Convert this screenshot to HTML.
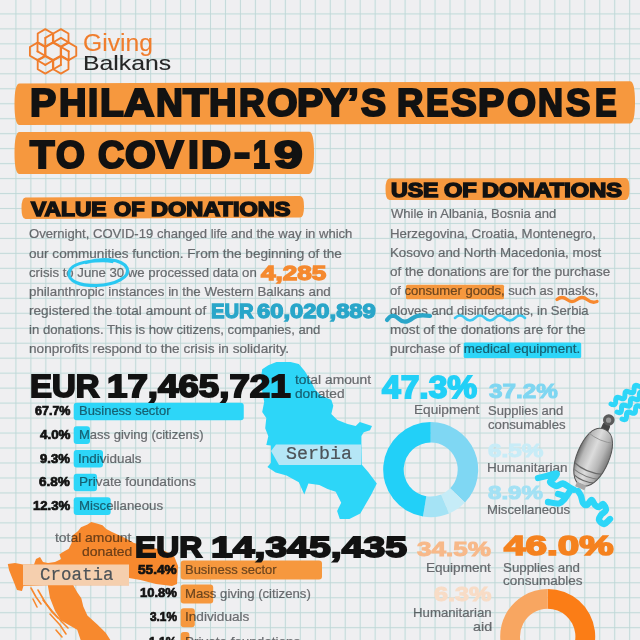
<!DOCTYPE html>
<html><head><meta charset="utf-8"><style>
html,body{margin:0;padding:0;}
body{width:640px;height:640px;overflow:hidden;position:relative;background-color:#efeff1;
}
.grid{position:absolute;left:0;top:0;width:640px;height:640px;}
.t{position:absolute;white-space:nowrap;line-height:0;transform-origin:0 0;}
.a{position:absolute;}
</style></head><body>
<svg class="a" style="left:0;top:0" width="640" height="640"><path d="M15.90,0V640M30.87,0V640M45.84,0V640M60.81,0V640M75.78,0V640M90.75,0V640M105.72,0V640M120.69,0V640M135.66,0V640M150.63,0V640M165.60,0V640M180.57,0V640M195.54,0V640M210.51,0V640M225.48,0V640M240.45,0V640M255.42,0V640M270.39,0V640M285.36,0V640M300.33,0V640M315.30,0V640M330.27,0V640M345.24,0V640M360.21,0V640M375.18,0V640M390.15,0V640M405.12,0V640M420.09,0V640M435.06,0V640M450.03,0V640M465.00,0V640M479.97,0V640M494.94,0V640M509.91,0V640M524.88,0V640M539.85,0V640M554.82,0V640M569.79,0V640M584.76,0V640M599.73,0V640M614.70,0V640M629.67,0V640M644.64,0V640M0,13.90H640M0,28.87H640M0,43.84H640M0,58.81H640M0,73.78H640M0,88.75H640M0,103.72H640M0,118.69H640M0,133.66H640M0,148.63H640M0,163.60H640M0,178.57H640M0,193.54H640M0,208.51H640M0,223.48H640M0,238.45H640M0,253.42H640M0,268.39H640M0,283.36H640M0,298.33H640M0,313.30H640M0,328.27H640M0,343.24H640M0,358.21H640M0,373.18H640M0,388.15H640M0,403.12H640M0,418.09H640M0,433.06H640M0,448.03H640M0,463.00H640M0,477.97H640M0,492.94H640M0,507.91H640M0,522.88H640M0,537.85H640M0,552.82H640M0,567.79H640M0,582.76H640M0,597.73H640M0,612.70H640M0,627.67H640M0,642.64H640" stroke="#e9f0f0" stroke-width="2.2" fill="none"/><path d="M15.90,0V640M30.87,0V640M45.84,0V640M60.81,0V640M75.78,0V640M90.75,0V640M105.72,0V640M120.69,0V640M135.66,0V640M150.63,0V640M165.60,0V640M180.57,0V640M195.54,0V640M210.51,0V640M225.48,0V640M240.45,0V640M255.42,0V640M270.39,0V640M285.36,0V640M300.33,0V640M315.30,0V640M330.27,0V640M345.24,0V640M360.21,0V640M375.18,0V640M390.15,0V640M405.12,0V640M420.09,0V640M435.06,0V640M450.03,0V640M465.00,0V640M479.97,0V640M494.94,0V640M509.91,0V640M524.88,0V640M539.85,0V640M554.82,0V640M569.79,0V640M584.76,0V640M599.73,0V640M614.70,0V640M629.67,0V640M644.64,0V640M0,13.90H640M0,28.87H640M0,43.84H640M0,58.81H640M0,73.78H640M0,88.75H640M0,103.72H640M0,118.69H640M0,133.66H640M0,148.63H640M0,163.60H640M0,178.57H640M0,193.54H640M0,208.51H640M0,223.48H640M0,238.45H640M0,253.42H640M0,268.39H640M0,283.36H640M0,298.33H640M0,313.30H640M0,328.27H640M0,343.24H640M0,358.21H640M0,373.18H640M0,388.15H640M0,403.12H640M0,418.09H640M0,433.06H640M0,448.03H640M0,463.00H640M0,477.97H640M0,492.94H640M0,507.91H640M0,522.88H640M0,537.85H640M0,552.82H640M0,567.79H640M0,582.76H640M0,597.73H640M0,612.70H640M0,627.67H640M0,642.64H640" stroke="#bed6d6" stroke-width="0.85" fill="none"/></svg>
<svg class="a" style="left:0;top:0" width="640" height="640"><path d="M19.5,83.5 L630,81.2 Q635,81.2 635,102.30000000000001 Q635,123.4 630,123.4 L19.5,125 Q14.5,125 14.5,104.25 Q14.5,83.5 19.5,83.5 Z" fill="#f6983e"/><path d="M19.5,132 L309,131.7 Q314,131.7 314,152.85 Q314,174 309,174 L19.5,174 Q14.5,174 14.5,153.0 Q14.5,132 19.5,132 Z" fill="#f6983e"/><path d="M25.5,197.5 L300,196 Q304,196 304,206.75 Q304,217.5 300,217.5 L25.5,219 Q21.5,219 21.5,208.25 Q21.5,197.5 25.5,197.5 Z" fill="#f6983e"/><path d="M389.5,178.4 L625.5,178 Q629.5,178 629.5,189.0 Q629.5,200 625.5,200 L389.5,200 Q385.5,200 385.5,189.2 Q385.5,178.4 389.5,178.4 Z" fill="#f6983e"/><rect x="406" y="284.7" width="98" height="14.5" rx="1.5" fill="#f6983e"/><rect x="463.7" y="342.5" width="117.5" height="15.5" rx="1.5" fill="#2dd6f8"/><rect x="73.7" y="402.70" width="170.05" height="17.6" rx="3" fill="#2dd6f8"/><rect x="73.7" y="426.35" width="16.30" height="17.6" rx="3" fill="#2dd6f8"/><rect x="73.7" y="450.00" width="29.30" height="17.6" rx="3" fill="#2dd6f8"/><rect x="73.7" y="473.65" width="23.30" height="17.6" rx="3" fill="#2dd6f8"/><rect x="73.7" y="497.30" width="37.00" height="17.6" rx="3" fill="#2dd6f8"/><rect x="180.7" y="560.60" width="141.30" height="19" rx="3" fill="#f6983e"/><rect x="180.7" y="584.40" width="32.50" height="19" rx="3" fill="#f6983e"/><rect x="180.7" y="608.20" width="14.10" height="19" rx="3" fill="#f6983e"/><rect x="180.7" y="632.00" width="8.70" height="19" rx="3" fill="#f6983e"/><path d="M262.2,369.2 L268.3,365.2 L276.4,362.1 L290.6,362.1 L298.8,364.1 L304.9,371.3 L311,381.4 L315,389.6 L321.1,395.7 L331.3,399.7 L333.3,405.8 L331.3,414 L337.4,420 L347.6,424.1 L355.7,426.1 L359.8,422.1 L365.9,424.1 L372,426.1 L370,430.2 L363.8,432.2 L361.4,436 L361.4,445.4 L361.7,464.4 L368.6,472.6 L376.8,483.6 L371.3,494.5 L365.8,504 L360.3,513.6 L349.4,519.1 L339.8,519.1 L337.1,510.9 L341.2,502.7 L335.7,491.8 L327.5,489 L319.3,485 L308.4,483.6 L304.3,494.5 L298.8,482.2 L286.5,475.4 L275.6,472.6 L267.4,467 L271,462.7 L271,445.4 L266.3,445 L268.3,436.3 L265.2,428.2 L266.3,418 L262.2,412 L264.2,401.7 L262,390 L261,378 Z" fill="#2dd6f8"/><path d="M271,451 L276,444.5 L361,444.5 L361,465 L279,465 Z" fill="#b5e6f6"/><path d="M91.2,522 L96.9,523.4 L102.5,525.3 L106.25,529 L112,532 L125,538 L134,543 L150,547 L165,551 L174,556 L178,566 L177,584 L172,586 L156,584 L140.6,580 L129,578 L129,585.3 L73.2,585.3 L77.2,592.2 L81.3,598.3 L83.3,606.4 L87.4,615.6 L97.6,624.7 L105.7,632.8 L111,641 L81,641 L77.2,629.8 L61,620.6 L54.9,610.5 L50,598 L47.8,585.3 L23.4,586 L22,591 L17,590 L13,580 L9,570 L7.8,564 L15,563 L23,564.5 L34,564.5 L36,559 L40,557 L43,562 L48,563 L55,562 L61.2,559 L59.4,554.4 L62.2,552.5 L68.75,548.75 L71.6,543.1 L72.5,535.6 L78.1,531 L81,527.2 L87.5,524.4 Z" fill="#f7892e"/><g fill="none" stroke="#f7892e" stroke-width="1.6" stroke-linecap="round" stroke-linejoin="round"><path d="M31,588 L36,597 L41,604"/><path d="M38,590 L45,602 L52,612 L58,618"/><path d="M43,600 L52,611 L62,622 L68,628"/><path d="M50,614 L60,625 L66,634"/><path d="M33,599 L37,607"/><path d="M56,630 L62,637"/></g><path d="M23,564.5 L129,564.5 L129,585.3 L23,585.3 Z" fill="#f5cfae"/><path d="M430.70,422.10 A47.5,47.5 0 0 1 464.91,502.55 L450.15,488.33 A27,27 0 0 0 430.70,442.60 Z" fill="#7fd7f3"/><path d="M464.91,502.55 A47.5,47.5 0 0 1 449.02,513.43 L441.11,494.51 A27,27 0 0 0 450.15,488.33 Z" fill="#c6ecf7"/><path d="M449.02,513.43 A47.5,47.5 0 0 1 422.97,516.47 L426.31,496.24 A27,27 0 0 0 441.11,494.51 Z" fill="#a5e3f5"/><path d="M422.97,516.47 A47.5,47.5 0 0 1 430.70,422.10 L430.70,442.60 A27,27 0 0 0 426.31,496.24 Z" fill="#22d0f8"/><path d="M547.70,589.00 A47.5,47.5 0 0 1 559.51,682.51 L554.59,663.33 A27.7,27.7 0 0 0 547.70,608.80 Z" fill="#fb7d16"/><path d="M559.51,682.51 A47.5,47.5 0 0 1 522.25,676.61 L532.86,659.89 A27.7,27.7 0 0 0 554.59,663.33 Z" fill="#f9b27a"/><path d="M522.25,676.61 A47.5,47.5 0 0 1 508.75,663.69 L524.99,652.36 A27.7,27.7 0 0 0 532.86,659.89 Z" fill="#f9dcc6"/><path d="M508.75,663.69 A47.5,47.5 0 0 1 547.70,589.00 L547.70,608.80 A27.7,27.7 0 0 0 524.99,652.36 Z" fill="#f8a661"/></svg>
<div class="t" style="left:82.62px;top:42.53px;font:normal 23.91px 'Liberation Sans', sans-serif;line-height:0;color:#f07d2c;-webkit-text-stroke:0.1px #f07d2c;transform:scaleX(1.0315)">Giving</div><div class="t" style="left:82.58px;top:62.93px;font:normal 21.01px 'Liberation Sans', sans-serif;line-height:0;color:#262626;-webkit-text-stroke:0.1px #262626;transform:scaleX(1.1785)">Balkans</div><div class="t" style="left:30.00px;top:103.01px;font:bold 39.00px 'Liberation Sans', sans-serif;line-height:0;color:#121212;-webkit-text-stroke:2.2px #121212;transform:scaleX(1.0073)">P</div><div class="t" style="left:58.99px;top:103.01px;font:bold 39.00px 'Liberation Sans', sans-serif;line-height:0;color:#121212;-webkit-text-stroke:2.2px #121212;transform:scaleX(0.9766)">H</div><div class="t" style="left:87.84px;top:103.01px;font:bold 39.00px 'Liberation Sans', sans-serif;line-height:0;color:#121212;-webkit-text-stroke:2.2px #121212;transform:scaleX(0.9360)">I</div><div class="t" style="left:100.36px;top:103.01px;font:bold 39.00px 'Liberation Sans', sans-serif;line-height:0;color:#121212;-webkit-text-stroke:2.2px #121212;transform:scaleX(0.9969)">L</div><div class="t" style="left:123.84px;top:103.01px;font:bold 39.00px 'Liberation Sans', sans-serif;line-height:0;color:#121212;-webkit-text-stroke:2.2px #121212;transform:scaleX(1.0759)">A</div><div class="t" style="left:156.02px;top:103.01px;font:bold 39.00px 'Liberation Sans', sans-serif;line-height:0;color:#121212;-webkit-text-stroke:2.2px #121212;transform:scaleX(0.9531)">N</div><div class="t" style="left:183.36px;top:103.01px;font:bold 39.00px 'Liberation Sans', sans-serif;line-height:0;color:#121212;-webkit-text-stroke:2.2px #121212;transform:scaleX(1.0703)">T</div><div class="t" style="left:209.29px;top:103.01px;font:bold 39.00px 'Liberation Sans', sans-serif;line-height:0;color:#121212;-webkit-text-stroke:2.2px #121212;transform:scaleX(0.9766)">H</div><div class="t" style="left:239.07px;top:103.01px;font:bold 39.00px 'Liberation Sans', sans-serif;line-height:0;color:#121212;-webkit-text-stroke:2.2px #121212;transform:scaleX(0.9074)">R</div><div class="t" style="left:267.04px;top:103.01px;font:bold 39.00px 'Liberation Sans', sans-serif;line-height:0;color:#121212;-webkit-text-stroke:2.2px #121212;transform:scaleX(1.0068)">O</div><div class="t" style="left:296.85px;top:103.01px;font:bold 39.00px 'Liberation Sans', sans-serif;line-height:0;color:#121212;-webkit-text-stroke:2.2px #121212;transform:scaleX(1.0073)">P</div><div class="t" style="left:321.52px;top:103.01px;font:bold 39.00px 'Liberation Sans', sans-serif;line-height:0;color:#121212;-webkit-text-stroke:2.2px #121212;transform:scaleX(1.0200)">Y</div><div class="t" style="left:348.27px;top:103.01px;font:bold 39.00px 'Liberation Sans', sans-serif;line-height:0;color:#121212;-webkit-text-stroke:2.2px #121212;transform:scaleX(0.9938)">’</div><div class="t" style="left:360.91px;top:103.01px;font:bold 39.00px 'Liberation Sans', sans-serif;line-height:0;color:#121212;-webkit-text-stroke:2.2px #121212;transform:scaleX(0.9619)">S</div><div class="t" style="left:396.64px;top:103.01px;font:bold 39.00px 'Liberation Sans', sans-serif;line-height:0;color:#121212;-webkit-text-stroke:2.2px #121212;transform:scaleX(0.9365)">R</div><div class="t" style="left:425.63px;top:103.01px;font:bold 39.00px 'Liberation Sans', sans-serif;line-height:0;color:#121212;-webkit-text-stroke:2.2px #121212;transform:scaleX(0.8637)">E</div><div class="t" style="left:450.52px;top:103.01px;font:bold 39.00px 'Liberation Sans', sans-serif;line-height:0;color:#121212;-webkit-text-stroke:2.2px #121212;transform:scaleX(0.9888)">S</div><div class="t" style="left:478.45px;top:103.01px;font:bold 39.00px 'Liberation Sans', sans-serif;line-height:0;color:#121212;-webkit-text-stroke:2.2px #121212;transform:scaleX(1.0073)">P</div><div class="t" style="left:506.56px;top:103.01px;font:bold 39.00px 'Liberation Sans', sans-serif;line-height:0;color:#121212;-webkit-text-stroke:2.2px #121212;transform:scaleX(0.9559)">O</div><div class="t" style="left:537.90px;top:103.01px;font:bold 39.00px 'Liberation Sans', sans-serif;line-height:0;color:#121212;-webkit-text-stroke:2.2px #121212;transform:scaleX(0.8867)">N</div><div class="t" style="left:565.90px;top:103.01px;font:bold 39.00px 'Liberation Sans', sans-serif;line-height:0;color:#121212;-webkit-text-stroke:2.2px #121212;transform:scaleX(0.9388)">S</div><div class="t" style="left:594.67px;top:103.01px;font:bold 39.00px 'Liberation Sans', sans-serif;line-height:0;color:#121212;-webkit-text-stroke:2.2px #121212;transform:scaleX(0.8309)">E</div><div class="t" style="left:30.44px;top:154.85px;font:bold 38.57px 'Liberation Sans', sans-serif;line-height:0;color:#121212;-webkit-text-stroke:2.2px #121212;transform:scaleX(1.0378)">T</div><div class="t" style="left:56.47px;top:154.85px;font:bold 38.57px 'Liberation Sans', sans-serif;line-height:0;color:#121212;-webkit-text-stroke:2.2px #121212;transform:scaleX(0.9623)">O</div><div class="t" style="left:97.78px;top:154.85px;font:bold 38.57px 'Liberation Sans', sans-serif;line-height:0;color:#121212;-webkit-text-stroke:2.2px #121212;transform:scaleX(0.9473)">C</div><div class="t" style="left:125.15px;top:154.85px;font:bold 38.57px 'Liberation Sans', sans-serif;line-height:0;color:#121212;-webkit-text-stroke:2.2px #121212;transform:scaleX(1.0274)">O</div><div class="t" style="left:155.88px;top:154.85px;font:bold 38.57px 'Liberation Sans', sans-serif;line-height:0;color:#121212;-webkit-text-stroke:2.2px #121212;transform:scaleX(1.0698)">V</div><div class="t" style="left:188.17px;top:154.85px;font:bold 38.57px 'Liberation Sans', sans-serif;line-height:0;color:#121212;-webkit-text-stroke:2.2px #121212;transform:scaleX(1.0154)">I</div><div class="t" style="left:200.59px;top:154.85px;font:bold 38.57px 'Liberation Sans', sans-serif;line-height:0;color:#121212;-webkit-text-stroke:2.2px #121212;transform:scaleX(1.0792)">D</div><div class="t" style="left:233.73px;top:152.65px;font:bold 38.57px 'Liberation Sans', sans-serif;line-height:0;color:#121212;-webkit-text-stroke:2.2px #121212;transform:scaleX(1.2605)">-</div><div class="t" style="left:253.44px;top:154.85px;font:bold 38.57px 'Liberation Sans', sans-serif;line-height:0;color:#121212;-webkit-text-stroke:2.2px #121212;transform:scaleX(0.7871)">1</div><div class="t" style="left:274.02px;top:154.85px;font:bold 38.57px 'Liberation Sans', sans-serif;line-height:0;color:#121212;-webkit-text-stroke:2.2px #121212;transform:scaleX(1.3365)">9</div><div class="t" style="left:31.35px;top:208.73px;font:bold 20.14px 'Liberation Sans', sans-serif;line-height:0;color:#121212;-webkit-text-stroke:1.5px #121212;transform:scaleX(1.1329)">VALUE</div><div class="t" style="left:113.54px;top:208.73px;font:bold 20.14px 'Liberation Sans', sans-serif;line-height:0;color:#121212;-webkit-text-stroke:1.5px #121212;transform:scaleX(1.0947)">OF</div><div class="t" style="left:151.36px;top:208.73px;font:bold 20.14px 'Liberation Sans', sans-serif;line-height:0;color:#121212;-webkit-text-stroke:1.5px #121212;transform:scaleX(1.1698)">DONATIONS</div><div class="t" style="left:391.07px;top:189.73px;font:bold 20.14px 'Liberation Sans', sans-serif;line-height:0;color:#121212;-webkit-text-stroke:1.5px #121212;transform:scaleX(1.1474)">USE</div><div class="t" style="left:443.93px;top:189.73px;font:bold 20.14px 'Liberation Sans', sans-serif;line-height:0;color:#121212;-webkit-text-stroke:1.5px #121212;transform:scaleX(1.1731)">OF</div><div class="t" style="left:481.86px;top:189.73px;font:bold 20.14px 'Liberation Sans', sans-serif;line-height:0;color:#121212;-webkit-text-stroke:1.5px #121212;transform:scaleX(1.1740)">DONATIONS</div><div class="t" style="left:29.09px;top:234.35px;font:normal 12.72px 'Liberation Sans', sans-serif;line-height:0;color:#717376;-webkit-text-stroke:0.22px #717376;mix-blend-mode:multiply;transform:scaleX(1.0279)">Overnight, COVID-19 changed life and the way in which</div><div class="t" style="left:29.07px;top:253.60px;font:normal 12.72px 'Liberation Sans', sans-serif;line-height:0;color:#717376;-webkit-text-stroke:0.22px #717376;mix-blend-mode:multiply;transform:scaleX(1.0665)">our communities function. From the beginning of the</div><div class="t" style="left:29.09px;top:272.60px;font:normal 12.72px 'Liberation Sans', sans-serif;line-height:0;color:#717376;-webkit-text-stroke:0.22px #717376;mix-blend-mode:multiply;transform:scaleX(1.0357)">crisis to June 30 we processed data on</div><div class="t" style="left:28.82px;top:291.60px;font:normal 12.72px 'Liberation Sans', sans-serif;line-height:0;color:#717376;-webkit-text-stroke:0.22px #717376;mix-blend-mode:multiply;transform:scaleX(1.0467)">philanthropic instances in the Western Balkans and</div><div class="t" style="left:28.80px;top:311.10px;font:normal 12.72px 'Liberation Sans', sans-serif;line-height:0;color:#717376;-webkit-text-stroke:0.22px #717376;mix-blend-mode:multiply;transform:scaleX(1.0712)">registered the total amount of</div><div class="t" style="left:28.82px;top:330.10px;font:normal 12.72px 'Liberation Sans', sans-serif;line-height:0;color:#717376;-webkit-text-stroke:0.22px #717376;mix-blend-mode:multiply;transform:scaleX(1.0340)">in donations. This is how citizens, companies, and</div><div class="t" style="left:28.80px;top:349.35px;font:normal 12.72px 'Liberation Sans', sans-serif;line-height:0;color:#717376;-webkit-text-stroke:0.22px #717376;mix-blend-mode:multiply;transform:scaleX(1.0708)">nonprofits respond to the crisis in solidarity.</div><div class="t" style="left:260.59px;top:273.38px;font:bold 20.00px 'Liberation Sans', sans-serif;line-height:0;color:#f5892f;-webkit-text-stroke:1.3px #f5892f;transform:scaleX(1.3037)">4,285</div><div class="t" style="left:210.69px;top:310.58px;font:bold 20.00px 'Liberation Sans', sans-serif;line-height:0;color:#2aa6c9;-webkit-text-stroke:1.3px #2aa6c9;transform:scaleX(1.0123)">EUR</div><div class="t" style="left:257.36px;top:310.58px;font:bold 20.00px 'Liberation Sans', sans-serif;line-height:0;color:#2aa6c9;-webkit-text-stroke:1.3px #2aa6c9;transform:scaleX(1.1861)">60,020,889</div><div class="t" style="left:390.61px;top:214.35px;font:normal 12.72px 'Liberation Sans', sans-serif;line-height:0;color:#717376;-webkit-text-stroke:0.22px #717376;mix-blend-mode:multiply;transform:scaleX(1.0248)">While in Albania, Bosnia and</div><div class="t" style="left:389.56px;top:233.85px;font:normal 12.72px 'Liberation Sans', sans-serif;line-height:0;color:#717376;-webkit-text-stroke:0.22px #717376;mix-blend-mode:multiply;transform:scaleX(1.0401)">Herzegovina, Croatia, Montenegro,</div><div class="t" style="left:389.55px;top:253.10px;font:normal 12.72px 'Liberation Sans', sans-serif;line-height:0;color:#717376;-webkit-text-stroke:0.22px #717376;mix-blend-mode:multiply;transform:scaleX(1.0446)">Kosovo and North Macedonia, most</div><div class="t" style="left:390.08px;top:272.35px;font:normal 12.72px 'Liberation Sans', sans-serif;line-height:0;color:#717376;-webkit-text-stroke:0.22px #717376;mix-blend-mode:multiply;transform:scaleX(1.0592)">of the donations are for the purchase</div><div class="t" style="left:390.09px;top:291.35px;font:normal 12.72px 'Liberation Sans', sans-serif;line-height:0;color:#717376;-webkit-text-stroke:0.22px #717376;mix-blend-mode:multiply;transform:scaleX(1.0269)">of consumer goods, such as masks,</div><div class="t" style="left:390.09px;top:310.60px;font:normal 12.72px 'Liberation Sans', sans-serif;line-height:0;color:#717376;-webkit-text-stroke:0.22px #717376;mix-blend-mode:multiply;transform:scaleX(1.0292)">gloves and disinfectants, in Serbia</div><div class="t" style="left:389.80px;top:329.85px;font:normal 12.72px 'Liberation Sans', sans-serif;line-height:0;color:#717376;-webkit-text-stroke:0.22px #717376;mix-blend-mode:multiply;transform:scaleX(1.0675)">most of the donations are for the</div><div class="t" style="left:389.81px;top:348.60px;font:normal 12.72px 'Liberation Sans', sans-serif;line-height:0;color:#717376;-webkit-text-stroke:0.22px #717376;mix-blend-mode:multiply;transform:scaleX(1.0548)">purchase of medical equipment.</div><div class="t" style="left:29.99px;top:387.37px;font:bold 30.71px 'Liberation Sans', sans-serif;line-height:0;color:#121212;-webkit-text-stroke:1.8px #121212;transform:scaleX(1.0709)">EUR</div><div class="t" style="left:107.47px;top:387.37px;font:bold 30.71px 'Liberation Sans', sans-serif;line-height:0;color:#121212;-webkit-text-stroke:1.8px #121212;transform:scaleX(1.1948)">17,465,721</div><div class="t" style="left:295.28px;top:379.60px;font:normal 12.72px 'Liberation Sans', sans-serif;line-height:0;color:#717376;-webkit-text-stroke:0.22px #717376;mix-blend-mode:multiply;transform:scaleX(1.0863)">total amount</div><div class="t" style="left:295.07px;top:393.60px;font:normal 12.72px 'Liberation Sans', sans-serif;line-height:0;color:#717376;-webkit-text-stroke:0.22px #717376;mix-blend-mode:multiply;transform:scaleX(1.0779)">donated</div><div class="t" style="left:34.68px;top:410.55px;font:bold 12.29px 'Liberation Sans', sans-serif;line-height:0;color:#121212;-webkit-text-stroke:0.7px #121212;transform:scaleX(1.0191)">67.7%</div><div class="t" style="left:39.65px;top:434.75px;font:bold 12.29px 'Liberation Sans', sans-serif;line-height:0;color:#121212;-webkit-text-stroke:0.7px #121212;transform:scaleX(1.0902)">4.0%</div><div class="t" style="left:40.28px;top:458.55px;font:bold 12.29px 'Liberation Sans', sans-serif;line-height:0;color:#121212;-webkit-text-stroke:0.7px #121212;transform:scaleX(1.0677)">9.3%</div><div class="t" style="left:39.38px;top:482.35px;font:bold 12.29px 'Liberation Sans', sans-serif;line-height:0;color:#121212;-webkit-text-stroke:0.7px #121212;transform:scaleX(1.0997)">6.8%</div><div class="t" style="left:32.99px;top:505.95px;font:bold 12.29px 'Liberation Sans', sans-serif;line-height:0;color:#121212;-webkit-text-stroke:0.7px #121212;transform:scaleX(1.0676)">12.3%</div><div class="t" style="left:78.57px;top:410.65px;font:normal 13.16px 'Liberation Sans', sans-serif;line-height:0;color:#717376;-webkit-text-stroke:0.22px #717376;mix-blend-mode:multiply;transform:scaleX(0.9849)">Business sector</div><div class="t" style="left:78.57px;top:434.95px;font:normal 13.16px 'Liberation Sans', sans-serif;line-height:0;color:#717376;-webkit-text-stroke:0.22px #717376;mix-blend-mode:multiply;transform:scaleX(0.9899)">Mass giving (citizens)</div><div class="t" style="left:78.40px;top:458.65px;font:normal 13.16px 'Liberation Sans', sans-serif;line-height:0;color:#717376;-webkit-text-stroke:0.22px #717376;mix-blend-mode:multiply;transform:scaleX(1.0227)">Individuals</div><div class="t" style="left:78.52px;top:482.25px;font:normal 13.16px 'Liberation Sans', sans-serif;line-height:0;color:#717376;-webkit-text-stroke:0.22px #717376;mix-blend-mode:multiply;transform:scaleX(1.0365)">Private foundations</div><div class="t" style="left:78.55px;top:505.85px;font:normal 13.16px 'Liberation Sans', sans-serif;line-height:0;color:#717376;-webkit-text-stroke:0.22px #717376;mix-blend-mode:multiply;transform:scaleX(1.0078)">Miscellaneous</div><div class="t" style="left:285.56px;top:455.12px;font:normal 18.33px 'Liberation Mono', monospace;line-height:0;color:#4d5358;-webkit-text-stroke:0.22px #4d5358;transform:scaleX(0.9983)">Serbia</div><div class="t" style="left:381.91px;top:386.93px;font:bold 32.00px 'Liberation Sans', sans-serif;line-height:0;color:#22d0f7;-webkit-text-stroke:1.8px #22d0f7;transform:scaleX(1.0491)">47.3%</div><div class="t" style="left:413.83px;top:409.60px;font:normal 12.72px 'Liberation Sans', sans-serif;line-height:0;color:#717376;-webkit-text-stroke:0.22px #717376;mix-blend-mode:multiply;transform:scaleX(1.0722)">Equipment</div><div class="t" style="left:488.64px;top:392.33px;font:bold 19.29px 'Liberation Sans', sans-serif;line-height:0;color:#7fd6f1;-webkit-text-stroke:1.0px #7fd6f1;transform:scaleX(1.2562)">37.2%</div><div class="t" style="left:487.59px;top:411.10px;font:normal 12.72px 'Liberation Sans', sans-serif;line-height:0;color:#717376;-webkit-text-stroke:0.22px #717376;mix-blend-mode:multiply;transform:scaleX(1.0238)">Supplies and</div><div class="t" style="left:487.59px;top:424.60px;font:normal 12.72px 'Liberation Sans', sans-serif;line-height:0;color:#717376;-webkit-text-stroke:0.22px #717376;mix-blend-mode:multiply;transform:scaleX(1.0363)">consumables</div><div class="t" style="left:487.93px;top:451.17px;font:bold 18.57px 'Liberation Sans', sans-serif;line-height:0;color:#c8ecf7;-webkit-text-stroke:1.0px #c8ecf7;transform:scaleX(1.3061)">6.5%</div><div class="t" style="left:487.03px;top:467.60px;font:normal 12.72px 'Liberation Sans', sans-serif;line-height:0;color:#717376;-webkit-text-stroke:0.22px #717376;mix-blend-mode:multiply;transform:scaleX(1.0652)">Humanitarian</div><div class="t" style="left:487.93px;top:493.07px;font:bold 18.57px 'Liberation Sans', sans-serif;line-height:0;color:#a3e1f4;-webkit-text-stroke:1.0px #a3e1f4;transform:scaleX(1.2967)">8.9%</div><div class="t" style="left:487.06px;top:509.80px;font:normal 12.72px 'Liberation Sans', sans-serif;line-height:0;color:#717376;-webkit-text-stroke:0.22px #717376;mix-blend-mode:multiply;transform:scaleX(1.0321)">Miscellaneous</div><div class="t" style="left:54.68px;top:537.50px;font:normal 12.72px 'Liberation Sans', sans-serif;line-height:0;color:#717376;-webkit-text-stroke:0.22px #717376;mix-blend-mode:multiply;transform:scaleX(1.0920)">total amount</div><div class="t" style="left:81.56px;top:552.40px;font:normal 12.72px 'Liberation Sans', sans-serif;line-height:0;color:#717376;-webkit-text-stroke:0.22px #717376;mix-blend-mode:multiply;transform:scaleX(1.0957)">donated</div><div class="t" style="left:135.44px;top:546.62px;font:bold 30.00px 'Liberation Sans', sans-serif;line-height:0;color:#121212;-webkit-text-stroke:1.8px #121212;transform:scaleX(1.0639)">EUR</div><div class="t" style="left:210.83px;top:546.62px;font:bold 30.00px 'Liberation Sans', sans-serif;line-height:0;color:#121212;-webkit-text-stroke:1.8px #121212;transform:scaleX(1.3056)">14,345,435</div><div class="t" style="left:137.78px;top:569.55px;font:bold 12.29px 'Liberation Sans', sans-serif;line-height:0;color:#121212;-webkit-text-stroke:0.7px #121212;transform:scaleX(1.1107)">55.4%</div><div class="t" style="left:139.59px;top:593.05px;font:bold 12.29px 'Liberation Sans', sans-serif;line-height:0;color:#121212;-webkit-text-stroke:0.7px #121212;transform:scaleX(1.0589)">10.8%</div><div class="t" style="left:149.50px;top:616.75px;font:bold 12.29px 'Liberation Sans', sans-serif;line-height:0;color:#121212;-webkit-text-stroke:0.7px #121212;transform:scaleX(0.9638)">3.1%</div><div class="t" style="left:149.02px;top:641.75px;font:bold 12.29px 'Liberation Sans', sans-serif;line-height:0;color:#121212;-webkit-text-stroke:0.7px #121212;transform:scaleX(0.9809)">1.1%</div><div class="t" style="left:185.07px;top:569.65px;font:normal 13.16px 'Liberation Sans', sans-serif;line-height:0;color:#717376;-webkit-text-stroke:0.22px #717376;mix-blend-mode:multiply;transform:scaleX(0.9860)">Business sector</div><div class="t" style="left:185.06px;top:593.65px;font:normal 13.16px 'Liberation Sans', sans-serif;line-height:0;color:#717376;-webkit-text-stroke:0.22px #717376;mix-blend-mode:multiply;transform:scaleX(1.0004)">Mass giving (citizens)</div><div class="t" style="left:184.89px;top:617.15px;font:normal 13.16px 'Liberation Sans', sans-serif;line-height:0;color:#717376;-webkit-text-stroke:0.22px #717376;mix-blend-mode:multiply;transform:scaleX(1.0358)">Individuals</div><div class="t" style="left:185.04px;top:641.95px;font:normal 13.16px 'Liberation Sans', sans-serif;line-height:0;color:#717376;-webkit-text-stroke:0.22px #717376;mix-blend-mode:multiply;transform:scaleX(1.0231)">Private foundations</div><div class="t" style="left:39.73px;top:575.72px;font:normal 18.33px 'Liberation Mono', monospace;line-height:0;color:#4d5358;-webkit-text-stroke:0.22px #4d5358;transform:scaleX(0.9532)">Croatia</div><div class="t" style="left:417.01px;top:548.53px;font:bold 20.71px 'Liberation Sans', sans-serif;line-height:0;color:#f7b98a;-webkit-text-stroke:1.0px #f7b98a;transform:scaleX(1.2576)">34.5%</div><div class="t" style="left:503.79px;top:546.06px;font:bold 27.86px 'Liberation Sans', sans-serif;line-height:0;color:#f5821f;-webkit-text-stroke:1.7px #f5821f;transform:scaleX(1.3859)">46.0%</div><div class="t" style="left:426.03px;top:567.50px;font:normal 12.72px 'Liberation Sans', sans-serif;line-height:0;color:#717376;-webkit-text-stroke:0.22px #717376;mix-blend-mode:multiply;transform:scaleX(1.0655)">Equipment</div><div class="t" style="left:502.58px;top:567.50px;font:normal 12.72px 'Liberation Sans', sans-serif;line-height:0;color:#717376;-webkit-text-stroke:0.22px #717376;mix-blend-mode:multiply;transform:scaleX(1.0472)">Supplies and</div><div class="t" style="left:502.58px;top:581.30px;font:normal 12.72px 'Liberation Sans', sans-serif;line-height:0;color:#717376;-webkit-text-stroke:0.22px #717376;mix-blend-mode:multiply;transform:scaleX(1.0619)">consumables</div><div class="t" style="left:433.60px;top:595.23px;font:bold 19.29px 'Liberation Sans', sans-serif;line-height:0;color:#f8dcc6;-webkit-text-stroke:1.0px #f8dcc6;transform:scaleX(1.3020)">6.3%</div><div class="t" style="left:412.96px;top:612.50px;font:normal 12.72px 'Liberation Sans', sans-serif;line-height:0;color:#717376;-webkit-text-stroke:0.22px #717376;mix-blend-mode:multiply;transform:scaleX(1.0396)">Humanitarian</div><div class="t" style="left:472.55px;top:626.60px;font:normal 12.72px 'Liberation Sans', sans-serif;line-height:0;color:#717376;-webkit-text-stroke:0.22px #717376;mix-blend-mode:multiply;transform:scaleX(1.1266)">aid</div>
<svg class="a" style="left:0;top:0" width="640" height="640"><g fill="none" stroke="#f07d2c" stroke-width="1.85" stroke-linejoin="round" stroke-linecap="round"><polygon points="60.68,55.77 53.10,60.15 45.52,55.77 45.52,47.02 53.10,42.65 60.68,47.02"/><polygon points="76.28,55.77 68.70,60.15 61.12,55.77 61.12,47.02 68.70,42.65 76.28,47.02"/><line x1="68.70" y1="51.40" x2="68.70" y2="60.15"/><line x1="68.70" y1="51.40" x2="61.12" y2="47.02"/><polygon points="68.48,69.28 60.90,73.66 53.32,69.28 53.32,60.53 60.90,56.16 68.48,60.53"/><line x1="60.90" y1="64.91" x2="53.32" y2="69.28"/><line x1="60.90" y1="64.91" x2="60.90" y2="56.16"/><polygon points="52.88,69.28 45.30,73.66 37.72,69.28 37.72,60.53 45.30,56.16 52.88,60.53"/><line x1="45.30" y1="64.91" x2="37.72" y2="60.53"/><line x1="45.30" y1="64.91" x2="52.88" y2="60.53"/><polygon points="45.08,55.77 37.50,60.15 29.92,55.77 29.92,47.02 37.50,42.65 45.08,47.02"/><line x1="37.50" y1="51.40" x2="37.50" y2="42.65"/><line x1="37.50" y1="51.40" x2="45.08" y2="55.77"/><polygon points="52.88,42.27 45.30,46.64 37.72,42.27 37.72,33.52 45.30,29.14 52.88,33.52"/><line x1="45.30" y1="37.89" x2="52.88" y2="33.52"/><line x1="45.30" y1="37.89" x2="45.30" y2="46.64"/><polygon points="68.48,42.27 60.90,46.64 53.32,42.27 53.32,33.52 60.90,29.14 68.48,33.52"/><line x1="60.90" y1="37.89" x2="68.48" y2="42.27"/><line x1="60.90" y1="37.89" x2="53.32" y2="42.27"/></g><path d="M86,262.5 C100,258 122,258 127,268 C131,277 115,285 97,285.5 C80,286 68,281 69,273 C70,266 80,262 95,261 C103,260.5 110,261 112,261.5" fill="none" stroke="#2ac8f2" stroke-width="3.2" stroke-linecap="round"/><path d="M387,320 C391,314 395,315 399,319 C403,323 408,322 413,318 C417,315 424,315 430,316" fill="none" stroke="#2aa6c9" stroke-width="4.2" stroke-linecap="round"/><path d="M455,318 q5,-5 10,0 t10,0 t10,0 t10,0 t10,0 t10,0 t10,0" fill="none" stroke="#3cc8f0" stroke-width="2.5" stroke-linecap="round"/><path d="M557,299.5 q5,-4 10,0 t10,0 t10,0 t10,2" fill="none" stroke="#f7882f" stroke-width="3.4" stroke-linecap="round"/><defs><linearGradient id="bg1" x1="0" x2="1" y1="0" y2="0"><stop offset="0" stop-color="#6e6e6e"/><stop offset="0.18" stop-color="#b8b8b8"/><stop offset="0.45" stop-color="#dcdcdc"/><stop offset="0.75" stop-color="#b5b5b5"/><stop offset="1" stop-color="#7a7a7a"/></linearGradient></defs>
<g transform="rotate(23 593 457)">
<rect x="589" y="421" width="8" height="8" rx="2" fill="#454545"/>
<clipPath id="bagc"><path d="M593,427 C605,427 609,442 609,457 C609,472 604,484 597,487 L589,487 C582,484 577,472 577,457 C577,442 581,427 593,427 Z"/></clipPath><path d="M593,427 C605,427 609,442 609,457 C609,472 604,484 597,487 L589,487 C582,484 577,472 577,457 C577,442 581,427 593,427 Z" fill="url(#bg1)" stroke="#555" stroke-width="1"/><g clip-path="url(#bagc)">
<path d="M577,469 Q593,475 609,469" stroke="#6a6a6a" stroke-width="1.2" fill="none"/>
<path d="M578,475 Q593,480 608,475" stroke="#7a7a7a" stroke-width="1" fill="none"/>
<path d="M580,480 Q593,485 606,480" stroke="#666" stroke-width="1" fill="none"/>
<path d="M578,436 Q593,441 608,436" stroke="#909090" stroke-width="0.8" fill="none"/></g>
<rect x="588" y="486" width="10" height="5" fill="#a8a8a8"/>
<rect x="591" y="412" width="4" height="8" fill="#6a6a6a"/>
</g>
<circle cx="608.8" cy="420" r="5.8" fill="#5a5a5a"/><circle cx="608.6" cy="420.2" r="2.6" fill="#999"/>
<g fill="none" stroke="#2dd6f8" stroke-width="6.3" stroke-linecap="round" stroke-linejoin="round"><path d="M538,478 C539.4,477.7 543.4,476.8 546.5,476 C549.6,475.2 555.2,473.2 556.5,473.5 C557.8,473.8 555.1,476.6 554,478 C552.9,479.4 549.6,480.7 550,482 C550.4,483.3 554.4,485.8 556.5,486 C558.6,486.2 560.7,483.3 562.75,483.5 C564.8,483.7 567.1,486.0 569,487 C570.9,488.0 573.2,489.3 574,489.75"/><path d="M548,502 C549.8,502.2 556.2,504.1 559,503.5 C561.8,502.9 563.2,500.6 565,498.5 C566.8,496.4 569.2,492.2 570,491"/><path d="M558,494 C559.2,494.3 563.8,495.7 565,496"/><path d="M578,491 C578.5,491.8 580.2,494.0 581,496 C581.8,498.0 582.0,501.5 583,503 C584.0,504.5 585.6,505.5 587,505 C588.4,504.5 590.2,500.0 591.5,500 C592.8,500.0 593.8,503.8 595,505 C596.2,506.2 597.7,507.2 599,507 C600.3,506.8 601.8,503.5 603,504 C604.2,504.5 606.3,508.2 606,510 C605.7,511.8 602.2,513.3 601,515 C599.8,516.7 598.5,518.5 599,520 C599.5,521.5 602.2,524.2 604,524 C605.8,523.8 609.0,519.8 610,519"/></g><g fill="none" stroke="#2dd6f8" stroke-width="5" stroke-linecap="round" stroke-linejoin="round"><path d="M611.0,404.0 C611.3,404.1 612.1,404.5 612.6,404.6 C613.1,404.7 613.5,404.8 613.9,404.7 C614.3,404.6 614.6,404.6 614.9,404.3 C615.1,404.1 615.3,403.6 615.4,403.2 C615.5,402.8 615.5,402.2 615.6,401.7 C615.7,401.1 615.6,400.4 615.7,399.9 C615.8,399.4 615.9,398.9 616.0,398.5 C616.1,398.1 616.3,397.7 616.6,397.5 C616.9,397.3 617.2,397.3 617.6,397.3 C618.0,397.3 618.6,397.5 619.1,397.6 C619.6,397.8 620.2,398.0 620.7,398.2 C621.2,398.4 621.7,398.6 622.2,398.7 C622.7,398.8 623.1,398.8 623.5,398.7 C623.9,398.6 624.1,398.4 624.3,398.1 C624.5,397.8 624.6,397.4 624.7,396.9 C624.8,396.4 624.9,395.8 624.9,395.2 C624.9,394.6 624.9,394.0 625.0,393.5 C625.1,393.0 625.1,392.6 625.3,392.2 C625.5,391.8 625.8,391.5 626.1,391.4 C626.4,391.3 626.8,391.3 627.2,391.4 C627.6,391.5 628.2,391.6 628.7,391.8 C629.2,392.0 629.8,392.2 630.3,392.4 C630.8,392.6 631.3,392.8 631.8,392.8 C632.2,392.9 632.7,392.9 633.0,392.7 C633.3,392.5 633.5,392.3 633.7,391.9 C633.9,391.5 633.9,391.0 634.0,390.5 C634.1,390.0 634.1,389.4 634.1,388.8 C634.1,388.2 634.2,387.7 634.3,387.2 C634.4,386.7 634.5,386.3 634.7,386.0 C634.9,385.7 635.2,385.5 635.6,385.4 C636.0,385.3 636.4,385.4 636.9,385.5 C637.4,385.6 637.9,385.8 638.4,386.0 C638.9,386.2 639.5,386.5 640.0,386.6 C640.5,386.8 641.0,386.9 641.4,386.9 C641.8,386.9 642.1,386.8 642.4,386.6 C642.7,386.4 642.9,385.8 643.0,385.6"/><path d="M617.0,412.0 C617.3,412.1 618.1,412.4 618.6,412.5 C619.1,412.6 619.6,412.7 620.0,412.6 C620.4,412.5 620.7,412.4 620.9,412.1 C621.1,411.8 621.2,411.4 621.3,411.0 C621.4,410.6 621.5,409.9 621.5,409.4 C621.5,408.8 621.5,408.2 621.5,407.7 C621.5,407.2 621.6,406.6 621.7,406.2 C621.8,405.8 622.0,405.5 622.3,405.3 C622.6,405.1 622.9,405.0 623.3,405.0 C623.7,405.0 624.3,405.1 624.8,405.2 C625.3,405.3 625.9,405.5 626.4,405.7 C626.9,405.9 627.5,406.0 628.0,406.1 C628.5,406.2 628.9,406.2 629.2,406.1 C629.5,406.0 629.8,405.7 630.0,405.4 C630.2,405.1 630.2,404.6 630.3,404.1 C630.4,403.6 630.4,403.1 630.4,402.5 C630.4,401.9 630.3,401.3 630.4,400.8 C630.5,400.3 630.5,399.8 630.7,399.4 C630.9,399.0 631.1,398.8 631.4,398.7 C631.7,398.6 632.1,398.6 632.6,398.6 C633.1,398.6 633.7,398.8 634.2,398.9 C634.7,399.0 635.3,399.2 635.8,399.4 C636.3,399.5 636.9,399.8 637.3,399.8 C637.7,399.8 638.1,399.7 638.4,399.5 C638.7,399.3 638.9,399.1 639.0,398.7 C639.1,398.3 639.2,397.8 639.3,397.3 C639.3,396.8 639.3,396.2 639.3,395.6 C639.3,395.0 639.3,394.4 639.4,393.9 C639.5,393.4 639.6,393.0 639.8,392.7 C640.0,392.4 640.6,392.2 640.7,392.1"/><path d="M622.0,419.0 C622.3,419.1 623.1,419.4 623.6,419.5 C624.1,419.6 624.5,419.7 624.9,419.6 C625.3,419.6 625.7,419.4 625.9,419.2 C626.1,418.9 626.2,418.6 626.3,418.1 C626.4,417.7 626.5,417.1 626.5,416.5 C626.5,415.9 626.5,415.3 626.5,414.8 C626.5,414.3 626.6,413.7 626.7,413.3 C626.8,412.9 627.0,412.6 627.3,412.4 C627.6,412.2 627.9,412.0 628.3,412.0 C628.7,412.0 629.2,412.2 629.7,412.3 C630.2,412.4 630.8,412.6 631.3,412.8 C631.8,413.0 632.4,413.2 632.9,413.3 C633.4,413.4 633.8,413.4 634.1,413.3 C634.5,413.2 634.8,413.0 635.0,412.7 C635.2,412.4 635.3,412.0 635.4,411.5 C635.5,411.0 635.5,410.4 635.5,409.9 C635.5,409.3 635.6,408.7 635.6,408.2 C635.6,407.7 635.6,407.2 635.8,406.8 C635.9,406.4 636.2,406.2 636.5,406.0 C636.8,405.8 637.2,405.7 637.6,405.7 C638.0,405.7 638.5,405.9 639.0,406.0 C639.5,406.1 640.1,406.4 640.6,406.6 C641.1,406.8 641.7,406.9 642.2,407.0 C642.7,407.1 643.2,406.9 643.4,406.9"/></g>
</svg>
</body></html>
